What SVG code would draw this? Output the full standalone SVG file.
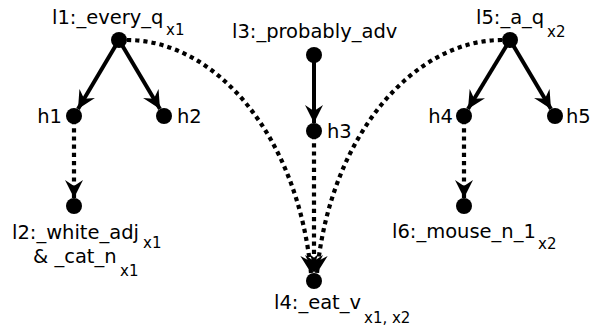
<svg xmlns="http://www.w3.org/2000/svg" width="593" height="329" viewBox="0 0 593 329">
<style>
text{font-family:"DejaVu Sans",sans-serif;font-size:19.5px;fill:#000}
.sub{font-size:15px}
.solid{stroke:#000;stroke-width:4;fill:none}
.dot{stroke:#000;stroke-width:4.2;fill:none;stroke-dasharray:4.2 4}
circle{fill:#000}
</style>
<defs>
<marker id="ah" markerUnits="userSpaceOnUse" markerWidth="20" markerHeight="18" viewBox="0 0 20 18" refX="18" refY="9" orient="auto">
<path d="M0,0 L18,9 L0,18 L6,9 Z" fill="#000"/>
</marker>
</defs>
<rect width="593" height="329" fill="#fff"/>
<g id="connectors">
<line class="solid" x1="119" y1="40" x2="78" y2="109" marker-end="url(#ah)"/>
<line class="solid" x1="119" y1="40" x2="160" y2="109" marker-end="url(#ah)"/>
<line class="solid" x1="314" y1="55" x2="314" y2="123" marker-end="url(#ah)"/>
<line class="solid" x1="510" y1="40" x2="468" y2="109" marker-end="url(#ah)"/>
<line class="solid" x1="510" y1="40" x2="551" y2="109" marker-end="url(#ah)"/>
<line class="dot" x1="74" y1="120" x2="74" y2="198" marker-end="url(#ah)"/>
<line class="dot" x1="464" y1="120" x2="464" y2="198" marker-end="url(#ah)"/>
<line class="dot" x1="314" y1="135" x2="314" y2="273" marker-end="url(#ah)"/>
<path class="dot" d="M127,40 C215,40 298,135 311,273" marker-end="url(#ah)"/>
<path class="dot" d="M502,40 C414,40 330,135 317,273" marker-end="url(#ah)"/>
</g>
<g id="l1"><circle cx="119" cy="40" r="8"/><text x="52" y="24">l1:_every_q</text><text class="sub" x="166" y="35">x1</text></g>
<g id="h1"><circle cx="74" cy="116" r="8"/><text x="62" y="123" text-anchor="end">h1</text></g>
<g id="h2"><circle cx="164" cy="116" r="8"/><text x="177" y="123">h2</text></g>
<g id="l3"><circle cx="314" cy="55" r="8"/><text x="232" y="38">l3:_probably_adv</text></g>
<g id="h3"><circle cx="314" cy="131" r="8"/><text x="327" y="138">h3</text></g>
<g id="l5"><circle cx="510" cy="40" r="8"/><text x="476" y="24">l5:_a_q</text><text class="sub" x="547" y="37">x2</text></g>
<g id="h4"><circle cx="464" cy="116" r="8"/><text x="453" y="123" text-anchor="end">h4</text></g>
<g id="h5"><circle cx="555" cy="116" r="8"/><text x="566" y="123">h5</text></g>
<g id="l2"><circle cx="74" cy="206" r="8"/><text x="12" y="239">l2:_white_adj</text><text class="sub" x="143" y="248">x1</text><text x="33" y="263">&amp; _cat_n</text><text class="sub" x="120" y="276">x1</text></g>
<g id="l6"><circle cx="464" cy="206" r="8"/><text x="392" y="238">l6:_mouse_n_1</text><text class="sub" x="538" y="249">x2</text></g>
<g id="l4"><circle cx="314" cy="281" r="8"/><text x="274" y="309">l4:_eat_v</text><text class="sub" x="364" y="323">x1, x2</text></g>
</svg>
